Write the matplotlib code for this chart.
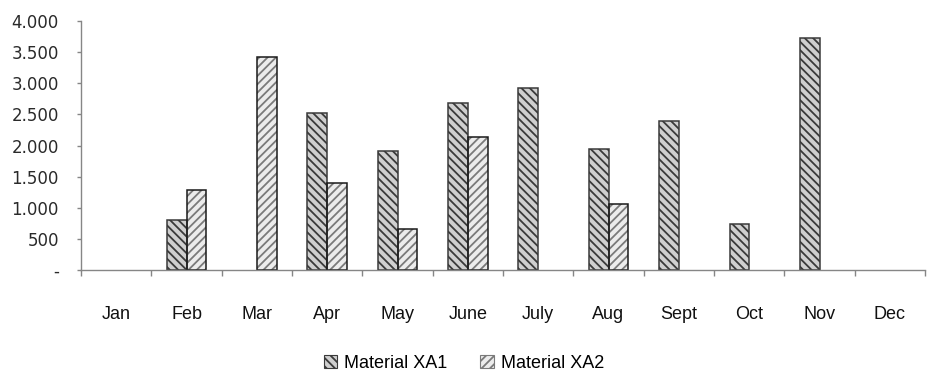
import numpy as np
import matplotlib
matplotlib.use("Agg")
import matplotlib.pyplot as plt
from matplotlib.ticker import FuncFormatter, FixedLocator
from matplotlib.patches import Patch

months = ["Jan", "Feb", "Mar", "Apr", "May", "June", "July", "Aug", "Sept", "Oct", "Nov", "Dec"]
xa1 = [0, 800, 0, 2530, 1910, 2680, 2930, 1945, 2400, 740, 3730, 0]
xa2 = [0, 1290, 3420, 1390, 660, 2130, 0, 1060, 0, 0, 0, 0]
series_names = ["Material XA1", "Material XA2"]
y_ticks = [0, 500, 1000, 1500, 2000, 2500, 3000, 3500, 4000]

axis_grey = "#868686"
styles = [
    dict(face="#cfcfcf", hatch_col="#3a3a3a", hatch="\\\\\\\\", edge="#3a3a3a"),
    dict(face="#ececec", hatch_col="#7a7a7a", hatch="////", edge="#1a1a1a"),
]

plt.rcParams["hatch.linewidth"] = 1.3

fig = plt.figure(figsize=(9.28, 3.76), dpi=100)
ax = fig.add_axes([0.0873, 0.2819, 0.9095, 0.6622])

x = np.arange(len(months))
bw = 0.28
for k, (vals, st) in enumerate(zip([xa1, xa2], styles)):
    vals = np.asarray(vals, dtype=float)
    keep = vals > 0
    pos = (x + (k - 0.5) * bw)[keep]
    ax.bar(pos, vals[keep], bw, color=st["face"], edgecolor=st["hatch_col"],
           hatch=st["hatch"], linewidth=0, zorder=2)
    ax.bar(pos, vals[keep], bw, fill=False, edgecolor=st["edge"], linewidth=1.1, zorder=3)

ax.set_xlim(-0.5, len(months) - 0.5)
ax.set_ylim(0, 4000)

for s in ["top", "right"]:
    ax.spines[s].set_visible(False)
for s in ["left", "bottom"]:
    ax.spines[s].set_color(axis_grey)
    ax.spines[s].set_linewidth(1.0)
    ax.spines[s].set_zorder(4)

ax.yaxis.set_major_locator(FixedLocator(y_ticks))
ax.yaxis.set_major_formatter(FuncFormatter(
    lambda v, p: "-" if v == 0 else f"{v:,.0f}".replace(",", ".")))
ax.tick_params(axis="y", direction="out", length=3, width=1, color=axis_grey,
               pad=13, labelsize=12, labelcolor="#2a2a2a")
for lab in ax.get_yticklabels():
    lab.set_family("DejaVu Sans")

ax.set_xticks(x)
ax.set_xticklabels(months, family="Liberation Sans", fontsize=13, color="#111111")
ax.set_xticks(np.arange(-0.5, len(months)), minor=True)
ax.tick_params(axis="x", which="major", length=0, pad=26)
ax.tick_params(axis="x", which="minor", direction="out", length=4, width=1, color=axis_grey)

handles = [Patch(facecolor=st["face"], edgecolor=st["hatch_col"], hatch=st["hatch"],
                 linewidth=0.8) for st in styles]
fig.legend(handles, series_names, loc="center", bbox_to_anchor=(0.5, 0.033), ncol=2,
           frameon=False, prop={"family": "Liberation Sans", "size": 13},
           handlelength=0.75, handleheight=0.75, handletextpad=0.4, columnspacing=1.8)

fig.savefig("out.png", dpi=100)
